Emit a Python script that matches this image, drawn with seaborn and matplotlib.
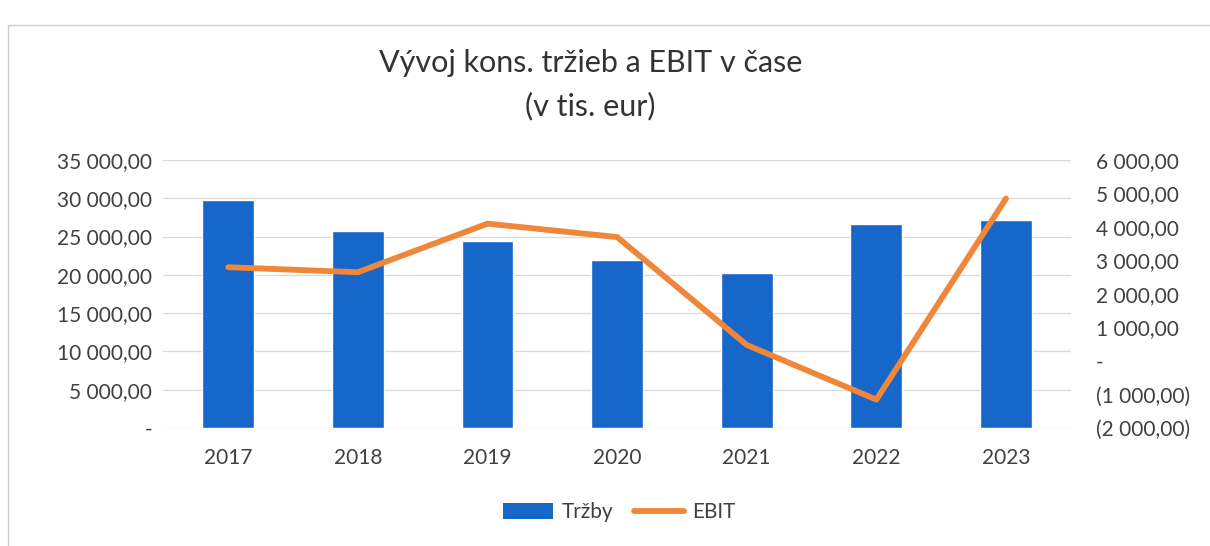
import numpy as np
import pandas as pd
import matplotlib
matplotlib.use("Agg")
import matplotlib.pyplot as plt
import seaborn as sns
from matplotlib.patches import Patch, Rectangle
from matplotlib.lines import Line2D
from matplotlib.ticker import FuncFormatter, MultipleLocator

years = ["2017", "2018", "2019", "2020", "2021", "2022", "2023"]
trzby = [29800, 25700, 24400, 21900, 20200, 26700, 27100]
ebit = [2800, 2650, 4100, 3700, 480, -1150, 4850]

sns.set_style("white")
plt.rcParams['font.family'] = ['Lato', 'DejaVu Sans']

bar_color = "#1766C9"
line_color = "#F0863A"
text_color = "#404040"

df = pd.DataFrame({"rok": years, "Tržby": trzby, "EBIT": ebit})


def fmt(v, pos=None):
    if abs(v) < 1e-9:
        return "-"
    s = f"{abs(v):,.2f}".replace(",", " ").replace(".", ",")
    return f"({s})" if v < 0 else s


fig = plt.figure(figsize=(12.1, 5.46), dpi=100)
ax = fig.add_axes([0.135, 0.216, 0.75, 0.491])

sns.barplot(data=df, x="rok", y="Tržby", color=bar_color, width=0.4,
            saturation=1, ax=ax, zorder=2)
ax.set_ylim(0, 35000)
ax.yaxis.set_major_locator(MultipleLocator(5000))
ax.yaxis.set_major_formatter(FuncFormatter(fmt))
ax.grid(axis="y", color="#d9d9d9", linewidth=0.9, zorder=0)
ax.set_axisbelow(True)
ax.set_xlabel("")
ax.set_ylabel("")
ax.set_xlim(-0.5, 6.5)

ax2 = ax.twinx()
sns.pointplot(data=df, x="rok", y="EBIT", color=line_color, markers="",
              linewidth=4.2, errorbar=None, ax=ax2)
ax2.set_ylim(-2000, 6000)
ax2.yaxis.set_major_locator(MultipleLocator(1000))
ax2.yaxis.set_major_formatter(FuncFormatter(fmt))
ax2.set_ylabel("")
ax2.set_xlim(-0.5, 6.5)

for a in (ax, ax2):
    for sp in a.spines.values():
        sp.set_visible(False)
    a.tick_params(length=0, labelsize=15, labelcolor=text_color)
ax.tick_params(axis="y", pad=8)
ax.tick_params(axis="x", pad=14)
ax2.tick_params(axis="y", pad=18)

fig.text(0.488, 0.885, "Vývoj kons. tržieb a EBIT v čase", ha="center",
         va="center", fontsize=22, color="#333333")
fig.text(0.488, 0.805, "(v tis. eur)", ha="center", va="center",
         fontsize=22, color="#333333")

handles = [Patch(facecolor=bar_color, edgecolor="none"),
           Line2D([0], [0], color=line_color, linewidth=4.2)]
fig.legend(handles, ["Tržby", "EBIT"], loc="center", ncol=2,
           bbox_to_anchor=(0.512, 0.062), frameon=False, fontsize=15,
           labelcolor=text_color, handlelength=2.4, handleheight=0.8,
           handletextpad=0.4, columnspacing=1.0)

fig.patches.append(Rectangle((0.007, -0.01), 1.0, 0.965,
                             transform=fig.transFigure, fill=False,
                             edgecolor="#cccccc", linewidth=1))

fig.savefig("out.png", dpi=100)
